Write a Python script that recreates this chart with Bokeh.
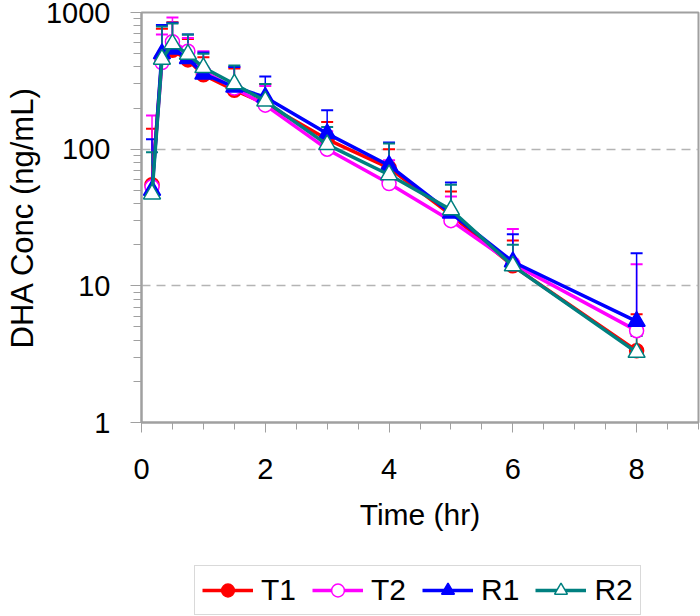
from bokeh.plotting import figure
from bokeh.layouts import column
from bokeh.models import (Range1d, FixedTicker, NumeralTickFormatter, Legend,
                          LegendItem, Whisker, TeeHead, ColumnDataSource)
from bokeh.embed import file_html
from bokeh.resources import INLINE

# ---- data ----
times = [0.17, 0.33, 0.5, 0.75, 1, 1.5, 2, 3, 4, 5, 6, 8]

t1_mean = [55, 460, 530, 450, 350, 270, 215, 118, 73, 33, 14, 3.35]
t1_upper = [141, 760, 850, 640, 470, 390, 300, 158, 100, 49, 21.5, 6.2]

t2_mean = [53, 430, 610, 520, 370, 280, 210, 100, 56, 30, 14.5, 4.7]
t2_upper = [176, 690, 920, 650, 520, 400, 290, 135, 83, 45, 26, 14.4]

r1_mean = [50, 500, 540, 460, 355, 285, 240, 130, 76, 34, 15, 5.5]
r1_upper = [118, 810, 840, 690, 510, 400, 340, 193, 112, 57, 23.8, 17.3]

r2_mean = [47, 455, 590, 495, 395, 300, 225, 108, 65, 36, 14, 3.26]
r2_upper = [95, 790, 830, 690, 500, 410, 300, 145, 110, 55, 20, 4.3]

series_names = ["T1", "T2", "R1", "R2"]
x_major_ticks = [0, 2, 4, 6, 8]
x_minor_ticks = [0.5 * i for i in range(0, 19)]
y_major_ticks = [1, 10, 100, 1000]
y_minor_ticks = [m * 10 ** e for e in range(3) for m in range(2, 10)]

FONT = "Liberation Sans"
GRAY = "#a0a0a0"

p = figure(width=700, height=550, output_backend="svg", toolbar_location=None,
           y_axis_type="log", x_range=Range1d(0, 9), y_range=Range1d(1, 1000),
           min_border_left=141, min_border_right=2, min_border_top=12,
           min_border_bottom=128, background_fill_color="white",
           border_fill_color="white")

p.outline_line_color = GRAY
p.outline_line_width = 2

# x axis
xa = p.xaxis[0]
xa.ticker = FixedTicker(ticks=x_major_ticks, minor_ticks=x_minor_ticks)
xa.axis_label = "Time (hr)"
# y axis
ya = p.yaxis[0]
ya.ticker = FixedTicker(ticks=y_major_ticks, minor_ticks=y_minor_ticks)
ya.formatter = NumeralTickFormatter(format="0")
ya.axis_label = "DHA Conc (ng/mL)"

for ax in (xa, ya):
    ax.axis_line_color = GRAY
    ax.axis_line_width = 2
    ax.major_tick_line_color = GRAY
    ax.minor_tick_line_color = GRAY
    ax.major_tick_line_width = 1
    ax.minor_tick_line_width = 1
    ax.major_tick_in = 0
    ax.minor_tick_in = 0
    ax.major_label_text_font = FONT
    ax.major_label_text_font_size = "29px"
    ax.major_label_text_color = "black"
    ax.axis_label_text_font = FONT
    ax.axis_label_text_font_style = "normal"
    ax.axis_label_text_color = "black"

xa.major_tick_out = 10
xa.minor_tick_out = 7
xa.major_label_standoff = 26
xa.axis_label_standoff = 16
xa.axis_label_text_font_size = "30px"

ya.major_tick_out = 11
ya.minor_tick_out = 8
ya.major_label_standoff = 20
ya.axis_label_standoff = 3
ya.axis_label_text_font_size = "31px"

p.xgrid.visible = False
p.ygrid.grid_line_color = "#b4b4b4"
p.ygrid.grid_line_width = 1.5
p.ygrid.grid_line_dash = "9 6"

styles = [
    dict(color="#ff0000", marker="circle", size=14, fill="#ff0000"),
    dict(color="#ff00ff", marker="circle", size=14, fill="white"),
    dict(color="#0000ff", marker="triangle", size=17, fill="#0000ff"),
    dict(color="#008080", marker="triangle", size=17, fill="white"),
]
means = [t1_mean, t2_mean, r1_mean, r2_mean]
uppers = [t1_upper, t2_upper, r1_upper, r2_upper]

sources = []
for st, m, u in zip(styles, means, uppers):
    src = ColumnDataSource(dict(x=times, y=m, up=u))
    sources.append(src)
    p.line("x", "y", source=src, line_color=st["color"], line_width=3.5)
    wk = Whisker(base="x", lower="y", upper="up", source=src, dimension="height",
                 line_color=st["color"], line_width=1.5, lower_head=None,
                 upper_head=TeeHead(size=12, line_color=st["color"], line_width=2))
    p.add_layout(wk)
    p.scatter("x", "y", source=src, marker=st["marker"], size=st["size"],
              fill_color=st["fill"], line_color=st["color"], line_width=1.5)

# ---- legend strip below the chart (its glyphs share the series' sources,
#      the strip's ranges keep the data itself out of view) ----
lg = figure(width=700, height=66, output_backend="svg", toolbar_location=None,
            x_range=Range1d(100, 101), y_range=Range1d(100, 101),
            x_axis_location=None, y_axis_location=None,
            min_border_left=0, min_border_right=0, min_border_top=0,
            min_border_bottom=0, outline_line_color=None,
            background_fill_color="white", border_fill_color="white")
lg.xgrid.visible = False
lg.ygrid.visible = False

items = []
for name, st, src in zip(series_names, styles, sources):
    ln = lg.line("x", "y", source=src, line_color=st["color"], line_width=3.5)
    sc = lg.scatter("x", "y", source=src, marker=st["marker"], size=st["size"],
                    fill_color=st["fill"], line_color=st["color"], line_width=1.5)
    items.append(LegendItem(label=name, renderers=[ln, sc]))

legend = Legend(items=items, orientation="horizontal", location=(53, 1),
                label_text_font=FONT, label_text_font_size="30px",
                label_text_color="black", border_line_color="#b4b4b4",
                border_line_width=1.5, background_fill_color="white",
                background_fill_alpha=1.0, padding=7, spacing=16,
                glyph_width=51, glyph_height=32, label_standoff=8, margin=0)
lg.add_layout(legend)

layout = column(p, lg, spacing=0)
open("out.html", "w").write(file_html(layout, INLINE))
